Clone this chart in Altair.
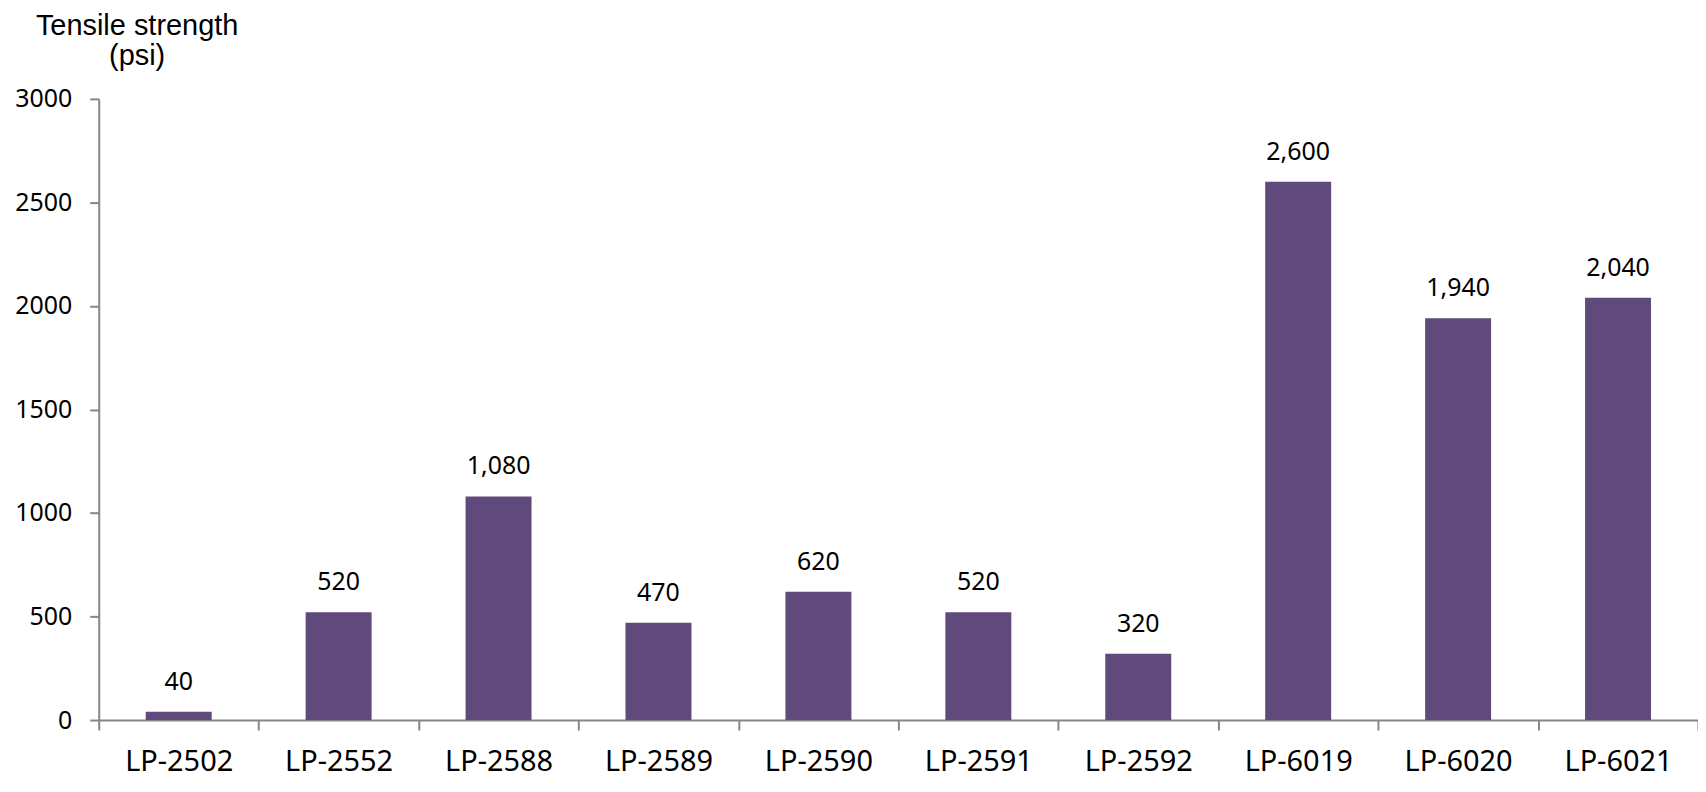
import altair as alt
import pandas as pd

categories = ["LP-2502", "LP-2552", "LP-2588", "LP-2589", "LP-2590",
              "LP-2591", "LP-2592", "LP-6019", "LP-6020", "LP-6021"]
values = [40, 520, 1080, 470, 620, 520, 320, 2600, 1940, 2040]
y_ticks = [0, 500, 1000, 1500, 2000, 2500, 3000]

df = pd.DataFrame({"name": categories, "value": values})

FONT = "Noto Sans"
AXIS_COLOR = "#868686"

x = alt.X("name:N", sort=categories,
          scale=alt.Scale(paddingInner=0, paddingOuter=0),
          axis=alt.Axis(title=None, labelAngle=0, labelFont=FONT, labelFontSize=29,
                        labelColor="#000000", labelBaseline="alphabetic",
                        labelPadding=41, tickSize=10, tickBand="extent",
                        domainColor=AXIS_COLOR, tickColor=AXIS_COLOR,
                        domainWidth=2, tickWidth=2, grid=False))
y = alt.Y("value:Q",
          scale=alt.Scale(domain=[0, 3000], nice=False),
          axis=alt.Axis(values=y_ticks, format="d",
                        title=["Tensile strength", "(psi)"],
                        titleAngle=0, titleAlign="center", titleBaseline="alphabetic",
                        titleX=38, titleY=-65, titleFont="Liberation Sans",
                        titleFontSize=29, titleFontWeight="normal", titleColor="#000000",
                        titleLineHeight=31,
                        labelFont=FONT, labelFontSize=25, labelColor="#000000",
                        labelPadding=18, tickSize=9,
                        domainColor=AXIS_COLOR, tickColor=AXIS_COLOR,
                        domainWidth=2, tickWidth=2, grid=False))

bars = alt.Chart(df).mark_bar(color="#604A7B", width=alt.RelativeBandSize(0.4125)).encode(x=x, y=y)

labels = alt.Chart(df).mark_text(font=FONT, fontSize=25, color="#000000",
                                 baseline="alphabetic", dy=-22).encode(
    x=alt.X("name:N", sort=categories),
    y=alt.Y("value:Q"),
    text=alt.Text("value:Q", format=","))

chart = alt.layer(bars, labels).properties(
    width=1604, height=623,
    autosize=alt.AutoSizeParams(type="none"),
    padding={"left": 91, "top": 90, "right": 0, "bottom": 62},
).configure_view(stroke=None)

chart.save("out.html", embed_options={"renderer": "svg", "actions": False})
